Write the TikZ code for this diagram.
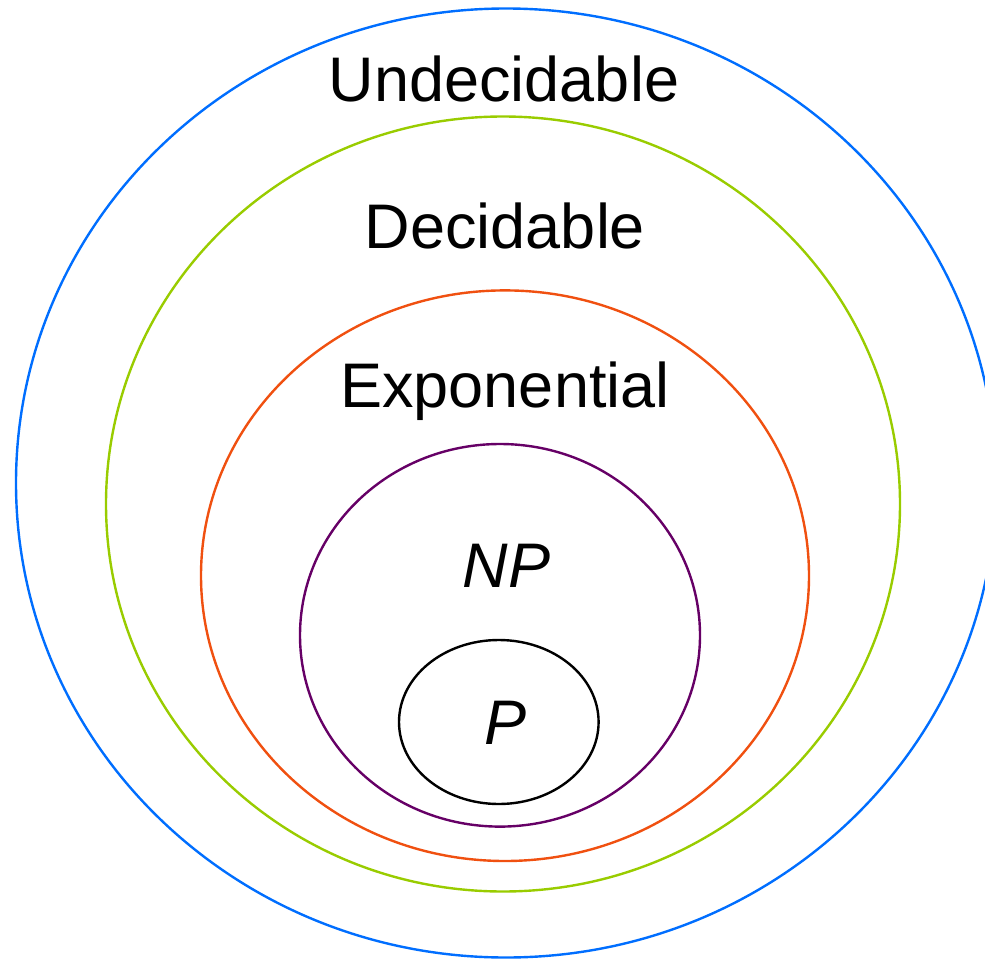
\documentclass[tikz,border=0pt]{standalone}
\usepackage{fontspec}
\setmainfont{Liberation Sans}
\definecolor{cblue}{RGB}{0,110,255}
\definecolor{cgreen}{RGB}{153,204,0}
\definecolor{corange}{RGB}{240,80,16}
\definecolor{cpurple}{RGB}{102,0,102}
\tikzset{
  ring/.style={line width=2.4pt},
  lab/.style={anchor=base, inner sep=0pt, font=\fontsize{63}{70}\selectfont},
}
\begin{document}
\begin{tikzpicture}[x=1pt,y=-1pt]
\useasboundingbox (0,0) rectangle (985,961);
\begin{scope}
\clip (0,0) rectangle (985,961);
\draw[ring, cblue] (506,483) ellipse [x radius=490, y radius=474.5];
\end{scope}
\draw[ring, cgreen] (503,504) ellipse [x radius=397, y radius=387.5];
\draw[ring, corange] (505,575.7) ellipse [x radius=304, y radius=285.3];
\draw[ring, cpurple] (500,635.3) ellipse [x radius=200, y radius=191.3];
\draw[ring, black] (498.8,722) ellipse [x radius=99.8, y radius=82];
\node[lab] (und) at (504,101) {Undecidable};
\node[lab] (dec) at (505,248) {Decidable};
\node[lab] (exp) at (505,407) {Exponential};
\node[lab, font=\fontsize{63}{70}\selectfont\itshape] (np) at (506.5,587) {NP};
\node[lab, font=\fontsize{63}{70}\selectfont\itshape] (p) at (506,744.5) {P};
\end{tikzpicture}
\end{document}
